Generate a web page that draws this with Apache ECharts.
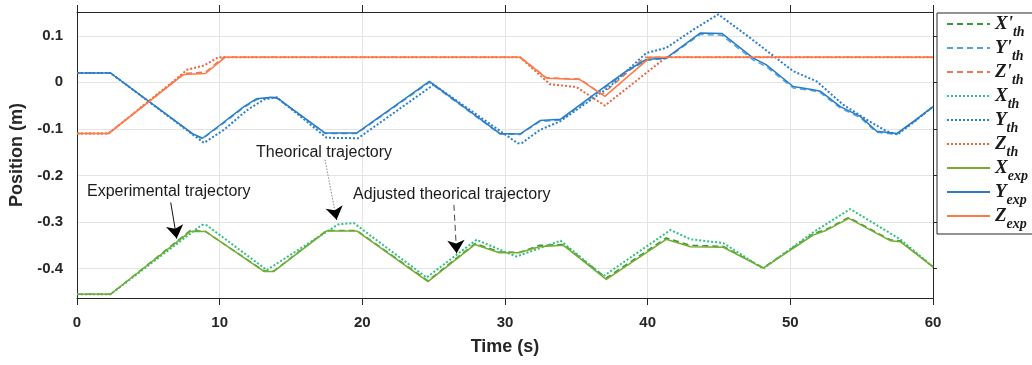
<!DOCTYPE html>
<html><head><meta charset="utf-8">
<script src="https://cdn.jsdelivr.net/npm/echarts@6/dist/echarts.min.js"></script>
<style>html,body{margin:0;padding:0;background:#fff}#c{width:1032px;height:365px}</style>
</head><body><div id="c"></div>
<script>
// ---- axis ticks ----
const xTicks = [0, 10, 20, 30, 40, 50, 60];
const yTicks = [-0.4, -0.3, -0.2, -0.1, 0, 0.1];

// ---- legend / series names ----
const seriesNames = ["X'th", "Y'th", "Z'th", "Xth", "Yth", "Zth", "Xexp", "Yexp", "Zexp"];
const legendMain = ["X'", "Y'", "Z'", "X", "Y", "Z", "X", "Y", "Z"];
const legendSub = ["th", "th", "th", "th", "th", "th", "exp", "exp", "exp"];

// ---- X (green) ----
const xExpT = [0, 2.35, 7.95, 9.0, 13.1, 13.8, 17.5, 19.6, 24.6, 27.9, 29.6, 31.0, 32.4, 34.1, 37.1, 41.3, 43.0, 45.3, 48.1, 51.6, 52.5, 54.1, 57.0, 57.7, 60];
const xExpV = [-0.455, -0.455, -0.320, -0.320, -0.406, -0.406, -0.319, -0.319, -0.428, -0.348, -0.366, -0.366, -0.353, -0.350, -0.423, -0.337, -0.353, -0.354, -0.399, -0.328, -0.318, -0.292, -0.340, -0.342, -0.396];
const xAdjV = [-0.455, -0.455, -0.318, -0.320, -0.405, -0.405, -0.318, -0.318, -0.426, -0.346, -0.364, -0.365, -0.350, -0.348, -0.420, -0.334, -0.350, -0.352, -0.398, -0.325, -0.316, -0.290, -0.338, -0.340, -0.396];
const xThT = [0, 2.35, 8.75, 9.1, 13.3, 18.3, 19.4, 24.5, 28.0, 30.8, 33.9, 36.9, 41.6, 43.0, 45.3, 48.1, 51.6, 54.2, 57.7, 60];
const xThV = [-0.455, -0.455, -0.306, -0.307, -0.403, -0.305, -0.302, -0.419, -0.338, -0.374, -0.340, -0.416, -0.317, -0.337, -0.345, -0.400, -0.322, -0.272, -0.337, -0.396];

// ---- Y (blue) ----
const yExpT = [0, 2.35, 8.1, 8.8, 10.05, 11.7, 12.6, 13.6, 14.0, 17.4, 19.6, 24.7, 29.65, 31.05, 32.45, 33.9, 37.35, 38.5, 39.9, 41.3, 43.7, 45.2, 47.4, 48.3, 50.2, 51.6, 52.1, 53.5, 54.9, 56.05, 57.45, 58.8, 60];
const yExpV = [0.020, 0.020, -0.110, -0.120, -0.091, -0.052, -0.035, -0.032, -0.033, -0.109, -0.109, 0.002, -0.110, -0.111, -0.082, -0.079, -0.001, 0.024, 0.049, 0.052, 0.106, 0.105, 0.052, 0.038, -0.009, -0.016, -0.019, -0.052, -0.073, -0.105, -0.110, -0.080, -0.052];
const yAdjV = [0.020, 0.020, -0.111, -0.121, -0.093, -0.054, -0.037, -0.033, -0.034, -0.110, -0.110, 0.000, -0.111, -0.112, -0.084, -0.081, -0.004, 0.022, 0.047, 0.051, 0.103, 0.101, 0.048, 0.034, -0.012, -0.018, -0.022, -0.055, -0.076, -0.107, -0.112, -0.082, -0.053];
const yThT = [0, 2.35, 8.9, 10.3, 11.9, 13.1, 14.0, 17.5, 19.7, 25.0, 30.9, 31.2, 32.45, 33.85, 37.35, 39.9, 41.3, 43.2, 44.95, 47.2, 50.2, 51.85, 53.7, 55.35, 56.75, 57.5, 58.8, 60];
const yThV = [0.020, 0.020, -0.130, -0.102, -0.060, -0.037, -0.032, -0.119, -0.120, -0.005, -0.131, -0.130, -0.102, -0.084, -0.009, 0.063, 0.074, 0.113, 0.146, 0.095, 0.024, 0.002, -0.048, -0.080, -0.105, -0.112, -0.082, -0.052];

// ---- Z (orange) ----
const zExpT = [0, 2.2, 7.0, 7.5, 9.0, 10.4, 31.05, 32.9, 35.25, 37.0, 40.2, 60];
const zExpV = [-0.110, -0.110, 0.006, 0.017, 0.019, 0.054, 0.054, 0.009, 0.006, -0.030, 0.054, 0.054];
const zAdjT = [0, 2.2, 7.0, 7.5, 9.0, 10.3, 31.05, 32.9, 35.25, 36.8, 39.8, 60];
const zAdjV = [-0.110, -0.110, 0.007, 0.019, 0.022, 0.054, 0.054, 0.010, 0.007, -0.026, 0.054, 0.054];
const zThT = [0, 2.2, 7.0, 7.7, 8.9, 9.9, 31.05, 33.15, 35.0, 37.0, 41.3, 60];
const zThV = [-0.110, -0.110, 0.008, 0.027, 0.036, 0.054, 0.054, -0.004, -0.010, -0.050, 0.054, 0.054];

// ---- annotations (data coordinates) ----
const annText = ["Experimental trajectory", "Theorical trajectory", "Adjusted theorical trajectory"];
const annTextPos = [[0.7, -0.234], [12.55, -0.151], [19.35, -0.242]];
const annFrom = [[6.57, -0.258], [17.38, -0.166], [26.42, -0.263]];
const annTo = [[6.99, -0.335], [18.2, -0.295], [26.61, -0.367]];

function pts(T, V) { return T.map((t, i) => [t, V[i]]); }

const seriesDefs = [
  { data: pts(xExpT, xAdjV), color: '#3a983a', dash: [6, 4], width: 1.5 },
  { data: pts(yExpT, yAdjV), color: '#4fa3e3', dash: [6, 4], width: 1.5 },
  { data: pts(zAdjT, zAdjV), color: '#e57a55', dash: [6, 4], width: 1.5 },
  { data: pts(xThT, xThV), color: '#2ec27e', dash: [2, 2], width: 2 },
  { data: pts(yThT, yThV), color: '#2a7fd4', dash: [2, 2], width: 2 },
  { data: pts(zThT, zThV), color: '#f0643a', dash: [2, 2], width: 2 },
  { data: pts(xExpT, xExpV), color: '#77ac30', dash: 'solid', width: 1.5 },
  { data: pts(yExpT, yExpV), color: '#2b7cc4', dash: 'solid', width: 1.5 },
  { data: pts(zExpT, zExpV), color: '#ff7a45', dash: 'solid', width: 1.5 }
];

const axisColor = '#262626';
const fontSans = '"Liberation Sans", Arial, sans-serif';
const fontSerif = '"Liberation Serif", "Times New Roman", serif';
const yMin = -0.463, yMax = 0.151;

const series = seriesDefs.map((d, i) => ({
  name: seriesNames[i], type: 'line', data: d.data, symbol: 'none', showSymbol: false,
  color: d.color, animation: false,
  lineStyle: { color: d.color, width: d.width, type: d.dash }
}));

// annotation arrows: shaft in its own style, black head on a tiny final segment
const shaftStyles = [
  { color: '#111', type: 'solid', width: 1 },
  { color: '#8a8a8a', type: [1.5, 1.5], width: 1 },
  { color: '#444', type: [6, 4], width: 1 }
];
const markData = [];
annFrom.forEach((f, i) => {
  const t = annTo[i];
  markData.push([{ coord: f, lineStyle: shaftStyles[i], symbol: 'none' }, { coord: t, symbol: 'none' }]);
  const near = [t[0] - (t[0] - f[0]) * 0.04, t[1] - (t[1] - f[1]) * 0.04];
  markData.push([{ coord: near, lineStyle: { color: '#000', width: 1, type: 'solid' }, symbol: 'none' }, { coord: t, symbol: 'arrow' }]);
});

series.push({
  name: 'annot', type: 'line', data: [], symbol: 'none', animation: false,
  markLine: {
    silent: true, animation: false, symbol: ['none', 'arrow'], symbolSize: 13,
    label: { show: false },
    data: markData
  }
});

const chart = echarts.init(document.getElementById('c'), null, { renderer: 'canvas' });
chart.setOption({
  animation: false,
  backgroundColor: '#fff',
  grid: { left: 77, right: 99, top: 12, bottom: 67, containLabel: false },
  xAxis: [{
    type: 'value', min: 0, max: 60, interval: 10, position: 'bottom',
    axisLine: { show: true, onZero: false, lineStyle: { color: axisColor, width: 1 } },
    axisTick: { show: true, inside: false, length: 7, lineStyle: { color: axisColor } },
    axisLabel: { margin: 17, fontSize: 15, fontWeight: 'bold', color: axisColor, fontFamily: fontSans },
    splitLine: { show: true, lineStyle: { color: '#e4e4e4', width: 1 } },
    name: 'Time (s)', nameLocation: 'middle', nameGap: 40,
    nameTextStyle: { fontSize: 18, fontWeight: 'bold', color: axisColor, fontFamily: fontSans }
  }, {
    type: 'value', min: 0, max: 60, interval: 10, position: 'top',
    axisLine: { show: true, onZero: false, lineStyle: { color: axisColor, width: 1 } },
    axisTick: { show: true, inside: false, length: 7, lineStyle: { color: axisColor } },
    axisLabel: { show: false }, splitLine: { show: false }
  }],
  yAxis: [{
    type: 'value', min: yMin, max: yMax, position: 'left',
    axisLine: { show: true, onZero: false, lineStyle: { color: axisColor, width: 1 } },
    axisTick: { show: false, customValues: yTicks },
    axisLabel: { customValues: yTicks, margin: 14, fontSize: 15, fontWeight: 'bold', color: axisColor, fontFamily: fontSans,
      formatter: v => String(Math.round(v * 10) / 10) },
    splitLine: { show: true, lineStyle: { color: '#e4e4e4', width: 1 } },
    name: 'Position (m)', nameLocation: 'middle', nameGap: 47,
    nameTextStyle: { fontSize: 18, fontWeight: 'bold', color: axisColor, fontFamily: fontSans }
  }, {
    type: 'value', min: yMin, max: yMax, position: 'right',
    axisLine: { show: true, onZero: false, lineStyle: { color: axisColor, width: 1 } },
    axisTick: { show: true, inside: false, length: 4, customValues: yTicks, lineStyle: { color: axisColor } },
    axisLabel: { show: false, customValues: yTicks }, splitLine: { show: false }
  }],
  legend: {
    data: seriesNames, orient: 'vertical', left: 937, top: 13,
    padding: [2, 14, 3, 9], itemGap: 0, itemWidth: 43, itemHeight: 10,
    backgroundColor: '#fff', borderColor: axisColor, borderWidth: 1, borderRadius: 0,
    selectedMode: false,
    itemStyle: { opacity: 0 },
    formatter: name => {
      const i = seriesNames.indexOf(name);
      return '{a|' + legendMain[i] + '}{b|' + legendSub[i] + '}';
    },
    textStyle: {
      rich: {
        a: { fontFamily: fontSerif, fontStyle: 'italic', fontWeight: 'bold', fontSize: 19, color: '#1a1a1a', lineHeight: 18, verticalAlign: 'top' },
        b: { fontFamily: fontSerif, fontStyle: 'italic', fontWeight: 'bold', fontSize: 14, color: '#1a1a1a', lineHeight: 14, padding: [10, 0, 0, 0], verticalAlign: 'top' }
      }
    }
  },
  series: series
});

const graphics = annText.map((txt, i) => {
  const p = chart.convertToPixel({ gridIndex: 0 }, annTextPos[i]);
  return {
    type: 'text', x: p[0], y: p[1], silent: true,
    style: { text: txt, fontSize: 16, fontFamily: fontSans, fill: '#1a1a1a', textVerticalAlign: 'middle', textAlign: 'left' }
  };
});
chart.setOption({ graphic: graphics });
</script>
</body></html>
